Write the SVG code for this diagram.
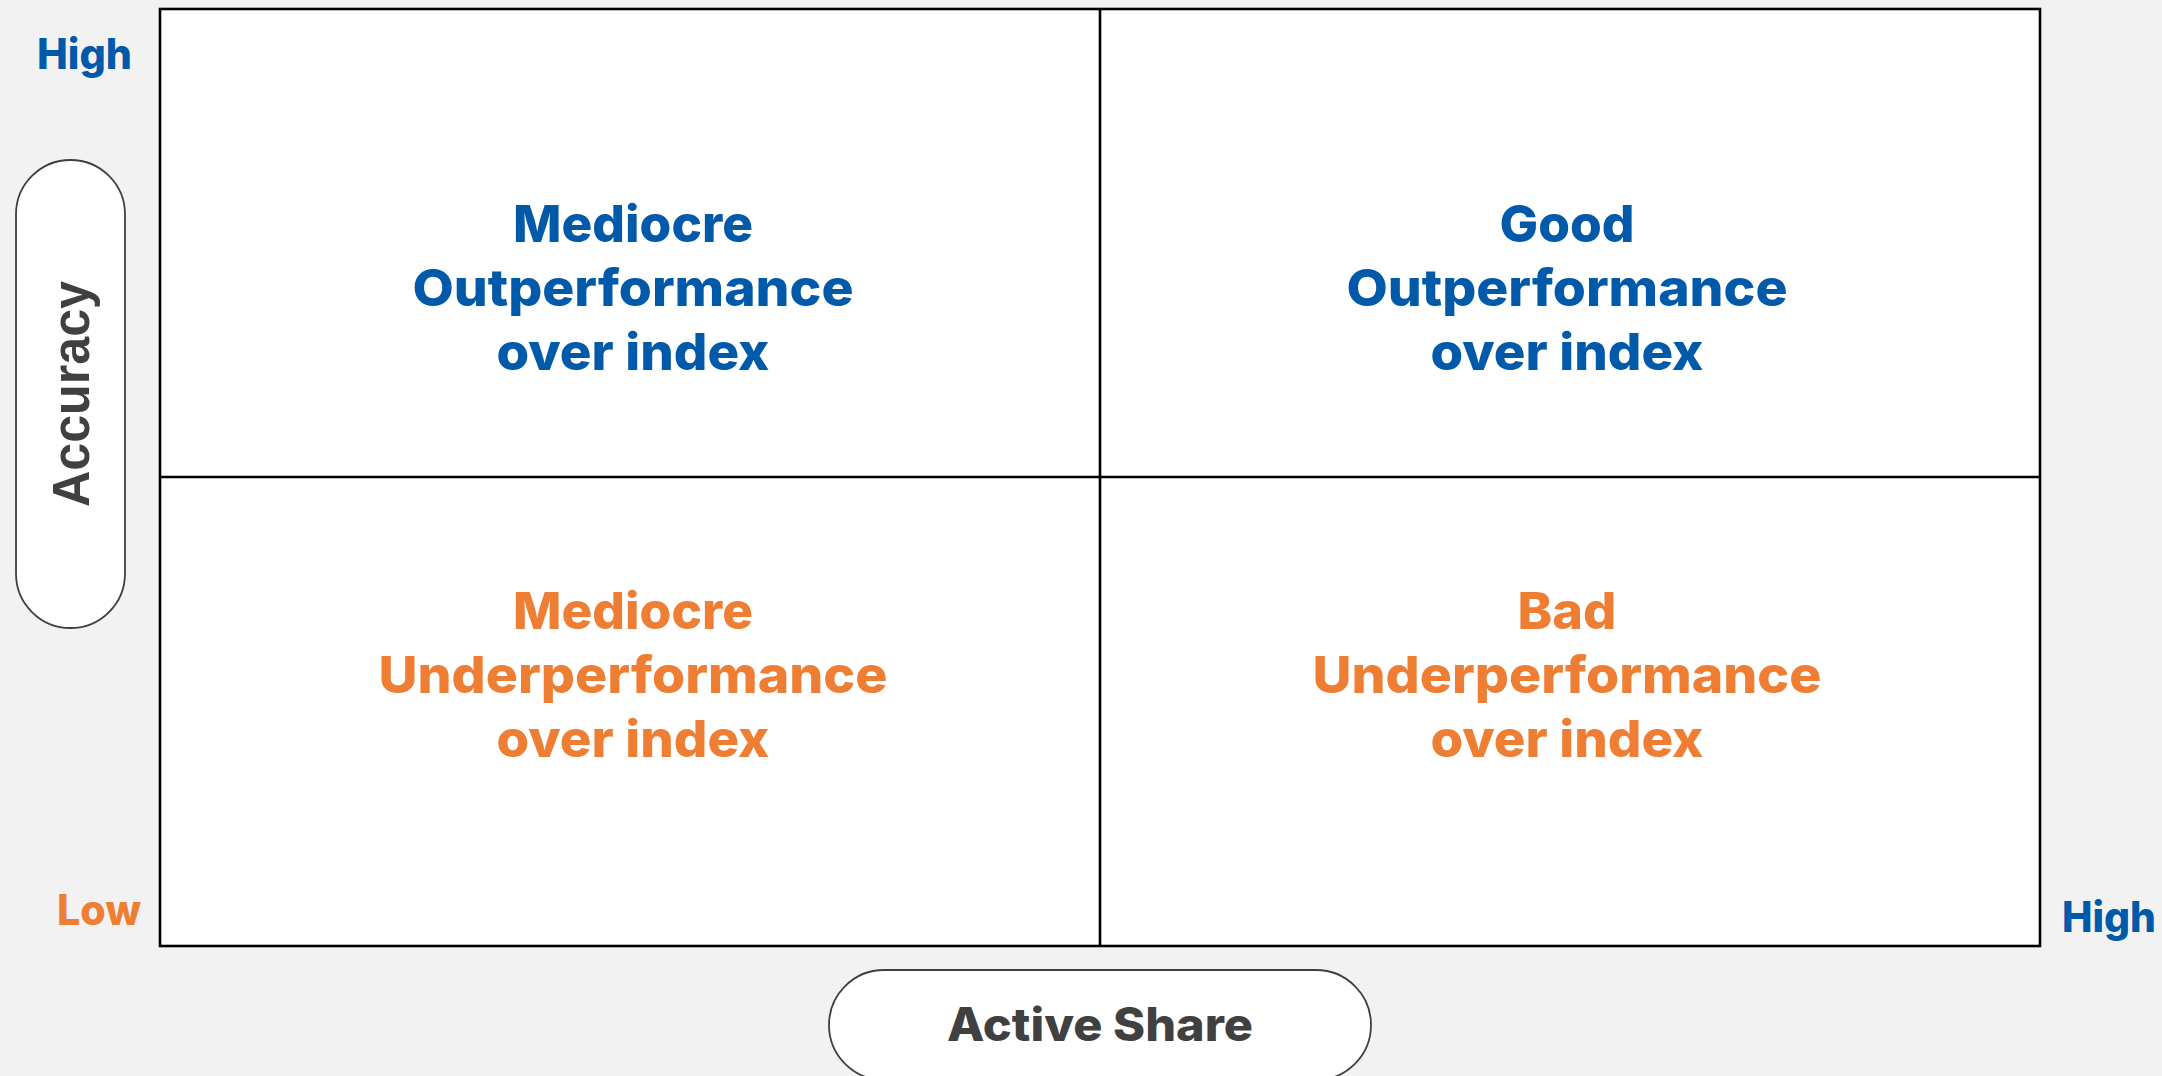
<svg xmlns="http://www.w3.org/2000/svg" width="2162" height="1076" viewBox="0 0 2162 1076">
  <style>
    .q { font-family: Inter, Roboto, "Liberation Sans", sans-serif; font-weight: 800; font-size: 51px; text-anchor: middle; }
    .blue { fill: #0059A9; }
    .orange { fill: #EE7E33; }
    .axis { font-family: Inter, Roboto, "Liberation Sans", sans-serif; font-weight: 800; font-size: 42px; }
    .pill { fill: #FFFFFF; stroke: #404040; stroke-width: 1.8; }
    .grid { stroke: #000000; stroke-width: 2.6; fill: none; }
  </style>
  <rect x="0" y="0" width="2162" height="1076" fill="#F2F2F2"/>

  <g id="matrix">
    <rect x="160" y="9" width="1880" height="937" fill="#FFFFFF"/>
  </g>

  <g id="connectors">
    <rect class="grid" x="160" y="9" width="1880" height="937"/>
    <line class="grid" x1="1100" y1="9" x2="1100" y2="946"/>
    <line class="grid" x1="160" y1="477" x2="2040" y2="477"/>
  </g>

  <g id="q-top-left">
    <text class="q blue" x="633" y="242" textLength="240" lengthAdjust="spacingAndGlyphs">Mediocre</text>
    <text class="q blue" x="633" y="306" textLength="441" lengthAdjust="spacingAndGlyphs">Outperformance</text>
    <text class="q blue" x="633" y="370" textLength="273" lengthAdjust="spacingAndGlyphs">over index</text>
  </g>

  <g id="q-top-right">
    <text class="q blue" x="1567" y="242" textLength="135" lengthAdjust="spacingAndGlyphs">Good</text>
    <text class="q blue" x="1567" y="306" textLength="441" lengthAdjust="spacingAndGlyphs">Outperformance</text>
    <text class="q blue" x="1567" y="370" textLength="273" lengthAdjust="spacingAndGlyphs">over index</text>
  </g>

  <g id="q-bottom-left">
    <text class="q orange" x="633" y="629" textLength="240" lengthAdjust="spacingAndGlyphs">Mediocre</text>
    <text class="q orange" x="633" y="693" textLength="509" lengthAdjust="spacingAndGlyphs">Underperformance</text>
    <text class="q orange" x="633" y="757" textLength="273" lengthAdjust="spacingAndGlyphs">over index</text>
  </g>

  <g id="q-bottom-right">
    <text class="q orange" x="1567" y="629" textLength="99" lengthAdjust="spacingAndGlyphs">Bad</text>
    <text class="q orange" x="1567" y="693" textLength="509" lengthAdjust="spacingAndGlyphs">Underperformance</text>
    <text class="q orange" x="1567" y="757" textLength="273" lengthAdjust="spacingAndGlyphs">over index</text>
  </g>

  <g id="label-high-y">
    <text class="axis blue" x="37" y="69" textLength="95" lengthAdjust="spacingAndGlyphs">High</text>
  </g>
  <g id="label-low">
    <text class="axis orange" x="57" y="925" textLength="84" lengthAdjust="spacingAndGlyphs">Low</text>
  </g>
  <g id="label-high-x">
    <text class="axis blue" x="2062" y="932" textLength="94" lengthAdjust="spacingAndGlyphs">High</text>
  </g>

  <g id="accuracy">
    <rect class="pill" x="16" y="160" width="109" height="468" rx="54.5" ry="54.5"/>
    <text x="89" y="394" transform="rotate(-90 89 394)" font-family="'Liberation Sans', Arial, sans-serif" font-weight="700" font-size="51" fill="#404040" text-anchor="middle" textLength="226" lengthAdjust="spacingAndGlyphs">Accuracy</text>
  </g>

  <g id="active-share">
    <rect class="pill" x="829" y="970" width="542" height="110" rx="55" ry="55"/>
    <text x="1100" y="1041" font-family="Inter, Roboto, 'Liberation Sans', sans-serif" font-weight="800" font-size="46" fill="#404040" text-anchor="middle" textLength="306" lengthAdjust="spacingAndGlyphs">Active Share</text>
  </g>
</svg>
